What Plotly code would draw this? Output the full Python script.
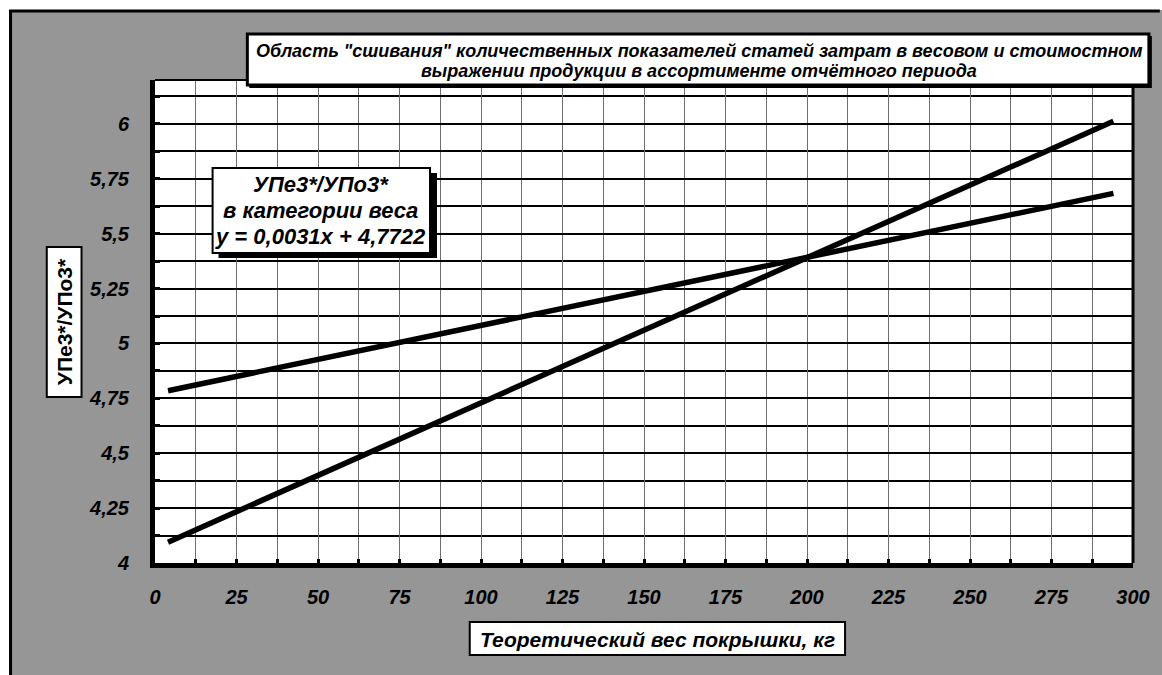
import plotly.graph_objects as go

# --- data -------------------------------------------------------------
x_ends = [4, 294]                      # theoretical tyre weight, kg
weight_slope = 0.0031                  # trend for the weight category
weight_intercept = 4.7722
weight_line = [weight_slope * x + weight_intercept for x in x_ends]
cost_line = [4.095, 6.012]             # trend in cost terms

x_tick_vals = [0, 25, 50, 75, 100, 125, 150, 175, 200, 225, 250, 275, 300]
x_tick_text = ["0", "25", "50", "75", "100", "125", "150", "175", "200",
               "225", "250", "275", "300"]
y_tick_vals = [4, 4.25, 4.5, 4.75, 5, 5.25, 5.5, 5.75, 6]
y_tick_text = ["4", "4,25", "4,5", "4,75", "5", "5,25", "5,5", "5,75", "6"]

title_lines = [
    'Область "сшивания" количественных показателей статей затрат в весовом и стоимостном',
    'выражении продукции в ассортименте отчётного периода',
]
box_lines = ["УПе3*/УПо3*", "в категории веса", "y = 0,0031x + 4,7722"]
x_title = "Теоретический вес покрышки, кг"
y_title = "УПе3*/УПо3*"

# --- geometry ---------------------------------------------------------
W, H = 1162, 675
L, R, T, B = 155, 22, 80, 112
PW, PH = W - L - R, H - T - B
GRAY = "#969696"
FONT = "Liberation Sans, Arial, sans-serif"
NARROW = "Liberation Sans Narrow, Arial Narrow, Liberation Sans, sans-serif"


def px(p):
    return (p - L) / PW


def py(p):
    return (H - B - p) / PH


def rect(x0, y0, x1, y1, fill="white", line="black", lw=2, layer="above"):
    return dict(type="rect", xref="paper", yref="paper",
                x0=px(x0), x1=px(x1), y0=py(y1), y1=py(y0),
                fillcolor=fill, line=dict(color=line, width=lw), layer=layer)


def label(text, x, y, size, italic=True, family=FONT, angle=0):
    return dict(text=text, x=px(x), y=py(y), xref="paper", yref="paper",
                showarrow=False, xanchor="center", yanchor="middle",
                textangle=angle,
                font=dict(family=family, size=size, color="black",
                          weight="bold", style="italic" if italic else "normal"))


fig = go.Figure()
for ys in (weight_line, cost_line):
    fig.add_trace(go.Scatter(x=x_ends, y=ys, mode="lines",
                             line=dict(color="black", width=5.5),
                             showlegend=False, hoverinfo="skip"))

shapes = [
    # white page margin and outer frame of the chart area
    rect(-10, -10, 8, H + 10, fill="white", line="white", lw=0, layer="below"),
    rect(-10, -10, W + 10, 10, fill="white", line="white", lw=0, layer="below"),
    dict(type="line", xref="paper", yref="paper", x0=px(9.5), x1=px(9.5),
         y0=py(10), y1=py(H + 5), line=dict(color="black", width=3)),
    dict(type="line", xref="paper", yref="paper", x0=px(8), x1=px(W + 5),
         y0=py(11), y1=py(11), line=dict(color="black", width=3)),
    # plot-area border (top/right)
    dict(type="line", xref="paper", yref="paper", x0=0, x1=1, y0=1, y1=1,
         line=dict(color="black", width=2)),
    dict(type="line", xref="paper", yref="paper", x0=1, x1=1, y0=0, y1=1,
         line=dict(color="black", width=3)),
    # title box
    rect(250, 36, 1159, 88, fill="black", line="black", lw=0),
    rect(248, 34, 1156, 85, lw=3),
    # equation box with shadow
    rect(219, 173, 439, 258, fill="black", line="black", lw=0),
    rect(213, 168, 432, 253, lw=2),
    # axis title boxes
    rect(472, 622, 850, 655, lw=2),
    rect(46, 247, 81, 397, lw=2),
]

annotations = [
    label(title_lines[0], 703, 51, 18, family=NARROW),
    label(title_lines[1], 703, 71, 18, family=NARROW),
    label(box_lines[0], 322, 184, 22),
    label(box_lines[1], 322, 210, 22),
    label(box_lines[2], 322, 236, 22),
    label(x_title, 661, 639, 21),
    label(y_title, 63.5, 322, 21, italic=False, angle=-90),
]

tick_font = dict(family=FONT, size=20, color="black", weight="bold", style="italic")

fig.update_layout(
    width=W, height=H,
    margin=dict(l=L, r=R, t=T, b=B),
    paper_bgcolor=GRAY, plot_bgcolor="white",
    shapes=shapes, annotations=annotations,
    xaxis=dict(range=[0, 300], tickmode="array", tickvals=x_tick_vals,
               ticktext=x_tick_text, tickfont=tick_font,
               showgrid=True, gridcolor="#6e6e6e", gridwidth=1,
               ticks="inside", ticklen=4, tickwidth=3, tickcolor="black",
               showline=True, linecolor="black", linewidth=5,
               ticklabelstandoff=12, zeroline=False, fixedrange=True,
               minor=dict(tickmode="linear", tick0=0, dtick=12.5, showgrid=True,
                          gridcolor="#6e6e6e", gridwidth=1, ticks="inside",
                          ticklen=4, tickwidth=3, tickcolor="black")),
    yaxis=dict(range=[4, 6.2], tickmode="array", tickvals=y_tick_vals,
               ticktext=y_tick_text, tickfont=tick_font,
               showgrid=True, gridcolor="black", gridwidth=2,
               ticks="inside", ticklen=5, tickwidth=3, tickcolor="black",
               showline=True, linecolor="black", linewidth=5,
               ticklabelstandoff=17, zeroline=False, fixedrange=True,
               minor=dict(tickmode="linear", tick0=4, dtick=0.125, showgrid=True,
                          gridcolor="black", gridwidth=2, ticks="inside",
                          ticklen=5, tickwidth=3, tickcolor="black")),
)

fig.write_html("out.html")
